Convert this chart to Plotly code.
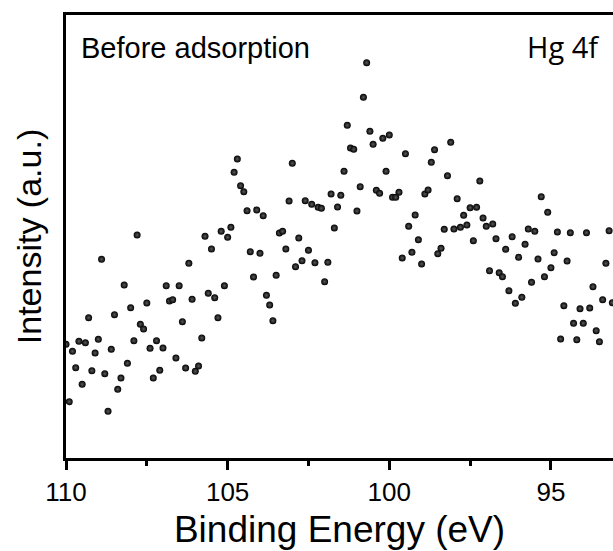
import plotly.graph_objects as go

# Binding energy grid (eV), 0.1 eV steps as recorded
energy = [
    110.0, 109.9, 109.8, 109.7, 109.6, 109.5, 109.4, 109.3, 109.2, 109.1,
    109.0, 108.9, 108.8, 108.7, 108.6, 108.5, 108.4, 108.3, 108.2, 108.1,
    108.0, 107.9, 107.8, 107.7, 107.6, 107.5, 107.4, 107.3, 107.2, 107.1,
    107.0, 106.9, 106.8, 106.7, 106.6, 106.5, 106.4, 106.3, 106.2, 106.1,
    106.0, 105.9, 105.8, 105.7, 105.6, 105.5, 105.4, 105.3, 105.2, 105.1,
    105.0, 104.9, 104.8, 104.7, 104.6, 104.5, 104.4, 104.3, 104.2, 104.1,
    104.0, 103.9, 103.8, 103.7, 103.6, 103.5, 103.4, 103.3, 103.2, 103.1,
    103.0, 102.9, 102.8, 102.7, 102.6, 102.5, 102.4, 102.3, 102.2, 102.1,
    102.0, 101.9, 101.8, 101.7, 101.6, 101.5, 101.4, 101.3, 101.2, 101.1,
    101.0, 100.9, 100.8, 100.7, 100.6, 100.5, 100.4, 100.3, 100.2, 100.1,
    100.0, 99.9, 99.8, 99.7, 99.6, 99.5, 99.4, 99.3, 99.2, 99.1,
    99.0, 98.9, 98.8, 98.7, 98.6, 98.5, 98.4, 98.3, 98.2, 98.1,
    98.0, 97.9, 97.8, 97.7, 97.6, 97.5, 97.4, 97.3, 97.2, 97.1,
    97.0, 96.9, 96.8, 96.7, 96.6, 96.5, 96.4, 96.3, 96.2, 96.1,
    96.0, 95.9, 95.8, 95.7, 95.6, 95.5, 95.4, 95.3, 95.2, 95.1,
    95.0, 94.9, 94.8, 94.7, 94.6, 94.5, 94.4, 94.3, 94.2, 94.1,
    94.0, 93.9, 93.8, 93.7, 93.6, 93.5, 93.4, 93.3, 93.2, 93.1,
]

# Intensity (a.u.)
intensity = [
    113.7, 56.3, 106.7, 90.3, 116.7, 73.7, 115.3, 140.3, 87.3, 105.0,
    118.7, 198.7, 84.3, 46.7, 108.7, 143.3, 68.7, 80.0, 173.0, 94.7,
    150.3, 117.3, 223.0, 133.7, 129.0, 155.0, 109.7, 80.0, 117.3, 87.7,
    110.0, 172.3, 157.0, 158.3, 100.0, 172.3, 136.3, 90.0, 194.7, 158.7,
    86.7, 92.0, 120.0, 221.7, 164.7, 209.0, 160.3, 140.3, 226.7, 172.3,
    220.7, 230.7, 285.7, 299.0, 272.3, 266.3, 247.3, 206.3, 181.0, 248.0,
    204.7, 242.3, 162.7, 153.0, 137.3, 182.7, 225.0, 226.7, 209.0, 257.0,
    294.7, 191.3, 220.0, 197.3, 257.3, 207.7, 253.7, 195.3, 250.7, 249.7,
    176.3, 195.7, 264.0, 230.0, 251.0, 262.7, 286.7, 332.7, 310.0, 308.7,
    247.0, 271.3, 360.7, 395.3, 326.7, 313.7, 267.7, 264.7, 319.7, 286.7,
    323.0, 260.7, 260.7, 265.7, 200.0, 304.3, 231.7, 205.7, 243.0, 218.3,
    194.0, 264.0, 268.0, 295.7, 308.3, 204.3, 209.7, 228.7, 282.3, 315.7,
    229.0, 259.3, 230.7, 242.7, 233.0, 250.3, 217.3, 250.7, 277.0, 240.0,
    231.7, 187.3, 234.0, 219.3, 185.3, 181.3, 208.7, 167.3, 221.3, 154.7,
    200.7, 160.7, 213.7, 229.0, 175.7, 226.7, 199.0, 261.3, 181.3, 245.7,
    190.3, 205.3, 226.0, 119.0, 152.3, 197.0, 225.3, 134.7, 118.3, 149.3,
    134.7, 225.3, 150.0, 171.3, 127.3, 116.3, 158.3, 194.7, 227.3, 155.3,
]

x_ticks = [110, 105, 100, 95]
x_tick_labels = ["110", "105", "100", "95"]

fig = go.Figure()
fig.add_trace(go.Scatter(
    x=energy, y=intensity, mode="markers",
    marker=dict(size=7, color="#000000",
                gradient=dict(type="radial", color="#5a5a5a"),
                line=dict(width=0)),
    showlegend=False, hoverinfo="x+y",
))

fig.update_layout(
    width=613, height=551,
    margin=dict(l=66, r=0, t=15, b=93),
    paper_bgcolor="white", plot_bgcolor="white",
    font=dict(family="Liberation Sans, Arial, sans-serif", color="black"),
    xaxis=dict(
        range=[110, 93.08], autorange=False,
        showline=True, linecolor="black", linewidth=3, mirror=True,
        showgrid=False, zeroline=False,
        tickmode="array", tickvals=x_ticks, ticktext=x_tick_labels,
        ticks="outside", ticklen=9, tickwidth=2.5, tickcolor="black",
        tickfont=dict(size=26, family="Liberation Sans, Arial, sans-serif"),
        minor=dict(tickvals=[107.5, 102.5, 97.5], ticks="outside", ticklen=5,
                   tickwidth=2.5, tickcolor="black", showgrid=False),
        title=dict(text="Binding Energy (eV)", standoff=10,
                   font=dict(size=37, family="Liberation Sans, Arial, sans-serif")),
    ),
    yaxis=dict(
        range=[0, 443], autorange=False,
        showline=True, linecolor="black", linewidth=3, mirror=False,
        showgrid=False, zeroline=False,
        showticklabels=False, ticks="",
        title=dict(text="Intensity (a.u.)", standoff=12,
                   font=dict(size=34, family="Liberation Sans, Arial, sans-serif")),
    ),
    annotations=[
        dict(text="Before adsorption", xref="paper", yref="paper",
             x=0.024, y=0.926, xanchor="left", yanchor="middle",
             showarrow=False,
             font=dict(size=29, family="Liberation Sans, Arial, sans-serif", color="black")),
        dict(text="Hg 4f", xref="paper", yref="paper",
             x=0.98, y=0.930, xanchor="right", yanchor="middle",
             showarrow=False,
             font=dict(size=29, family="Open Sans, sans-serif", color="black")),
    ],
)

fig.write_html("out.html")
